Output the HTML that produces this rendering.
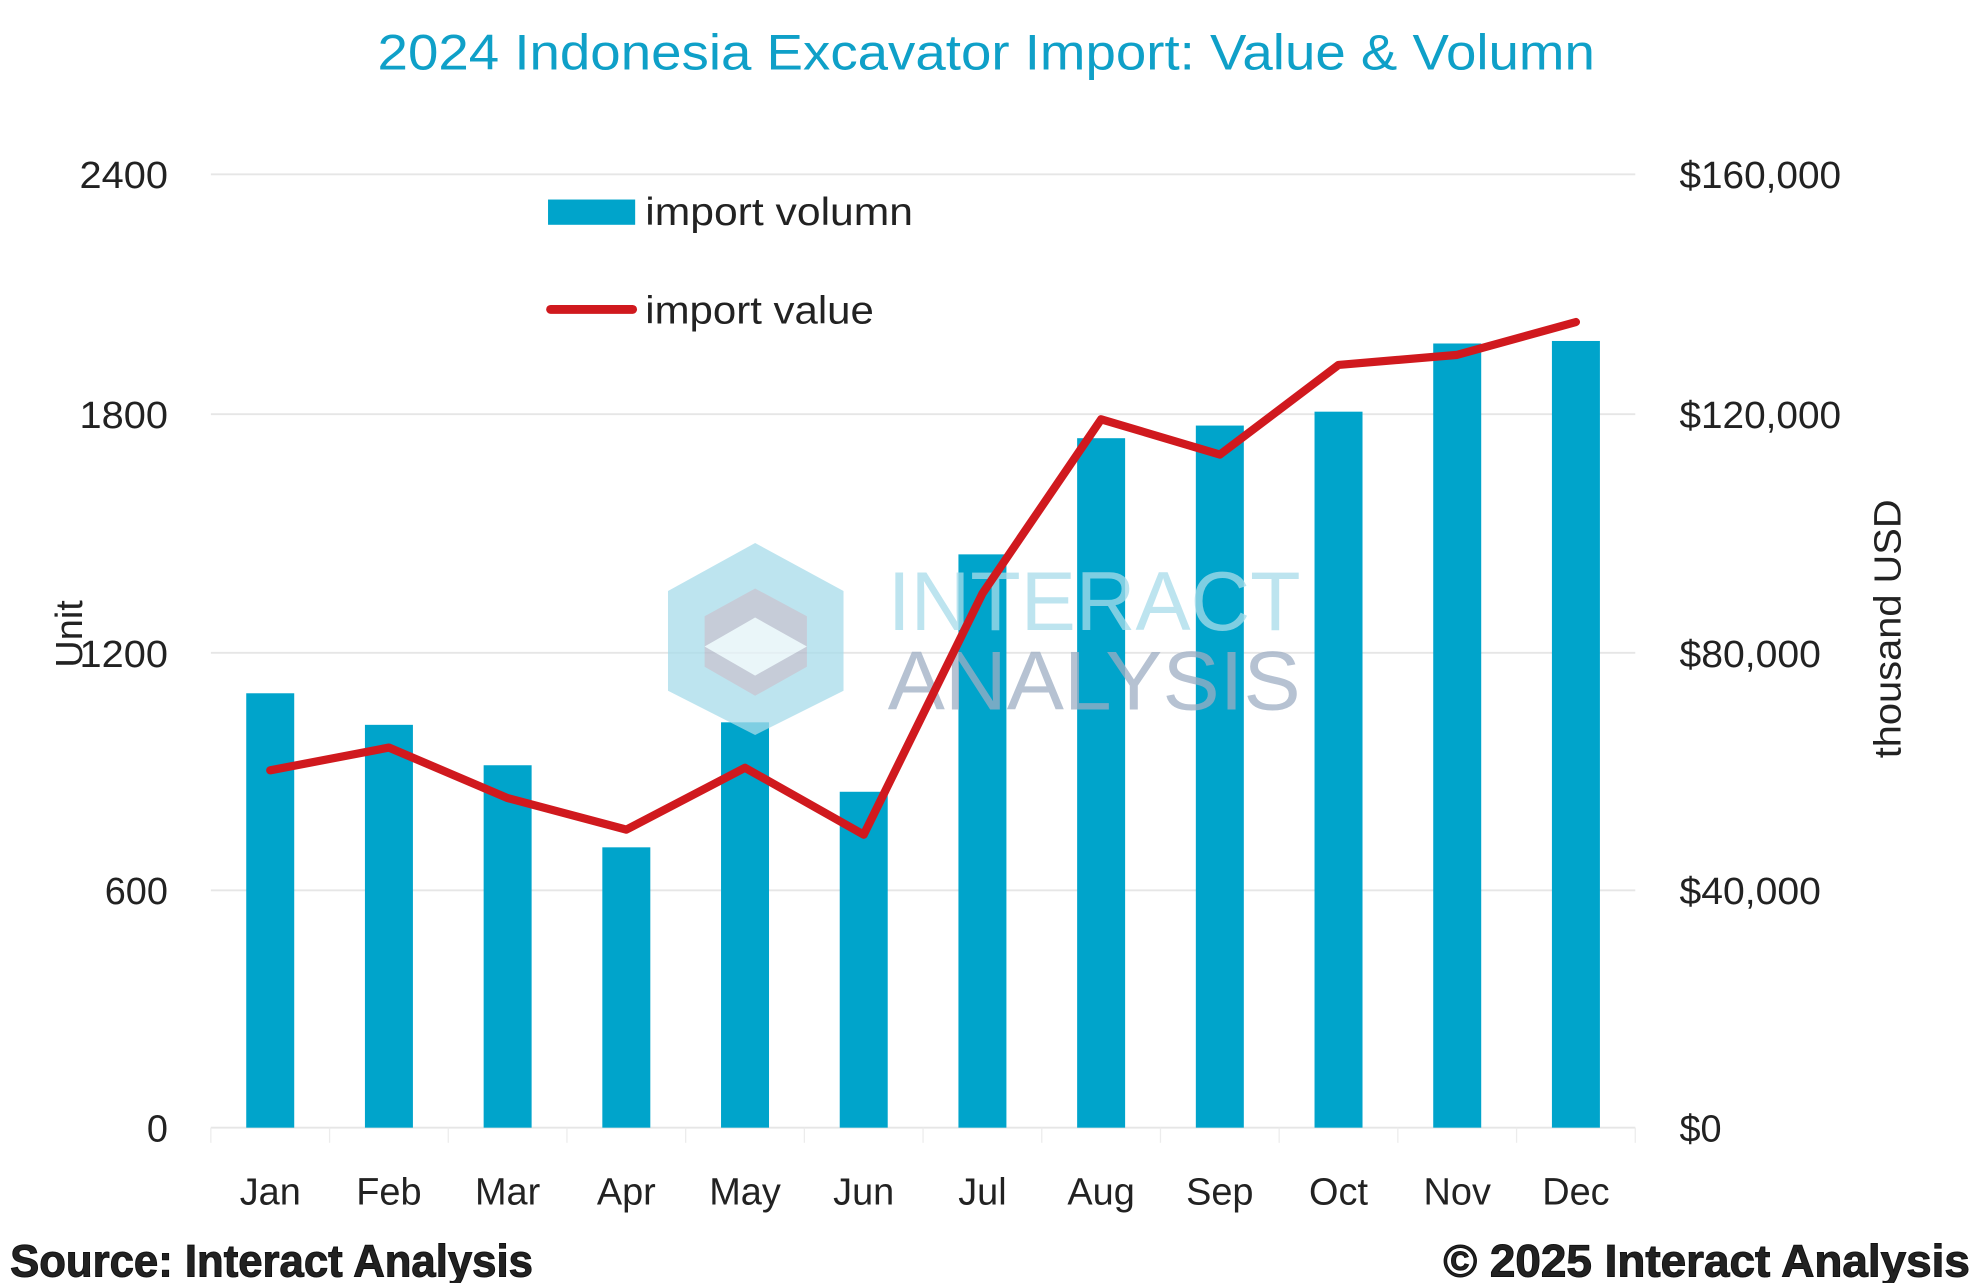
<!DOCTYPE html>
<html><head><meta charset="utf-8"><style>
html,body{margin:0;padding:0;background:#fff;}
svg{display:block;}
text{font-family:"Liberation Sans",sans-serif;}
</style></head><body>
<svg width="1980" height="1283" viewBox="0 0 1568 1016" xmlns="http://www.w3.org/2000/svg">
<rect width="1568" height="1016" fill="#fff"/>
<text x="781" y="55" text-anchor="middle" font-size="40" fill="#0fa0c8" textLength="964" lengthAdjust="spacingAndGlyphs">2024 Indonesia Excavator Import: Value &amp; Volumn</text>
<g stroke="#e6e6e6" stroke-width="1.5">
<line x1="167" y1="138" x2="1295" y2="138"/>
<line x1="167" y1="328" x2="1295" y2="328"/>
<line x1="167" y1="517" x2="1295" y2="517"/>
<line x1="167" y1="705" x2="1295" y2="705"/>
<line x1="167" y1="893" x2="1295" y2="893"/>
</g>
<g stroke="#ececec" stroke-width="1">
<line x1="167" y1="893" x2="167" y2="905"/><line x1="261" y1="893" x2="261" y2="905"/><line x1="355" y1="893" x2="355" y2="905"/><line x1="449" y1="893" x2="449" y2="905"/><line x1="543" y1="893" x2="543" y2="905"/><line x1="637" y1="893" x2="637" y2="905"/><line x1="731" y1="893" x2="731" y2="905"/><line x1="825" y1="893" x2="825" y2="905"/><line x1="919" y1="893" x2="919" y2="905"/><line x1="1013" y1="893" x2="1013" y2="905"/><line x1="1107" y1="893" x2="1107" y2="905"/><line x1="1201" y1="893" x2="1201" y2="905"/><line x1="1295" y1="893" x2="1295" y2="905"/>
</g>
<g fill="#00a4cb">
<rect x="195" y="549" width="38" height="344"/>
<rect x="289" y="574" width="38" height="319"/>
<rect x="383" y="606" width="38" height="287"/>
<rect x="477" y="671" width="38" height="222"/>
<rect x="571" y="572" width="38" height="321"/>
<rect x="665" y="627" width="38" height="266"/>
<rect x="759" y="439" width="38" height="454"/>
<rect x="853" y="347" width="38" height="546"/>
<rect x="947" y="337" width="38" height="556"/>
<rect x="1041" y="326" width="38" height="567"/>
<rect x="1135" y="272" width="38" height="621"/>
<rect x="1229" y="270" width="38" height="623"/>
</g>
<g opacity="0.75">
<polygon points="598,430 668,468 668,547 598,582 529,547 529,468" fill="#a8dcea"/>
<polygon points="598,466 639,488 639,528 598,551 558,528 558,488" fill="#b4bccc"/>
<polygon points="598,489 639,512 598,535 558,512" fill="#e4f3f8"/>
<text x="703" y="499" font-size="66" fill="#a8dcea" textLength="327" lengthAdjust="spacingAndGlyphs">INTERACT</text>
<text x="703" y="562" font-size="66" fill="#9eaec4" textLength="327" lengthAdjust="spacingAndGlyphs">ANALYSIS</text>
</g>
<polyline points="214,610 308,592 402,632 496,657 590,608 684,661 778,470 872,332 966,360 1060,289 1154,281 1248,255" fill="none" stroke="#d0191e" stroke-width="6.5" stroke-linejoin="round" stroke-linecap="round"/>
<g font-size="30" fill="#222" text-anchor="end">
<text x="133" y="149" textLength="70" lengthAdjust="spacingAndGlyphs">2400</text><text x="133" y="339" textLength="70" lengthAdjust="spacingAndGlyphs">1800</text><text x="133" y="528" textLength="70" lengthAdjust="spacingAndGlyphs">1200</text><text x="133" y="716">600</text><text x="133" y="904">0</text>
</g>
<g font-size="30" fill="#222">
<text x="1330" y="149" textLength="128" lengthAdjust="spacingAndGlyphs">$160,000</text><text x="1330" y="339" textLength="128" lengthAdjust="spacingAndGlyphs">$120,000</text><text x="1330" y="528" textLength="112" lengthAdjust="spacingAndGlyphs">$80,000</text><text x="1330" y="716" textLength="112" lengthAdjust="spacingAndGlyphs">$40,000</text><text x="1330" y="904">$0</text>
</g>
<g font-size="30" fill="#222" text-anchor="middle">
<text x="214" y="954">Jan</text><text x="308" y="954">Feb</text><text x="402" y="954">Mar</text><text x="496" y="954">Apr</text><text x="590" y="954">May</text><text x="684" y="954">Jun</text><text x="778" y="954">Jul</text><text x="872" y="954">Aug</text><text x="966" y="954">Sep</text><text x="1060" y="954">Oct</text><text x="1154" y="954">Nov</text><text x="1248" y="954">Dec</text>
</g>
<text transform="translate(65,502) rotate(-90)" font-size="30" fill="#222" text-anchor="middle">Unit</text>
<text transform="translate(1505,498) rotate(-90)" font-size="30" fill="#222" text-anchor="middle" textLength="205" lengthAdjust="spacingAndGlyphs">thousand USD</text>
<rect x="434" y="158" width="69" height="20" fill="#00a4cb"/>
<text x="511" y="178" font-size="31" fill="#222" textLength="212" lengthAdjust="spacingAndGlyphs">import volumn</text>
<line x1="436" y1="245" x2="501" y2="245" stroke="#d0191e" stroke-width="7" stroke-linecap="round"/>
<text x="511" y="256" font-size="31" fill="#222" textLength="181" lengthAdjust="spacingAndGlyphs">import value</text>
<g font-size="36" font-weight="bold" fill="#222" stroke="#111" stroke-width="0.8">
<text x="8" y="1011" textLength="414" lengthAdjust="spacingAndGlyphs">Source: Interact Analysis</text>
<text x="1143" y="1011" textLength="417" lengthAdjust="spacingAndGlyphs">© 2025 Interact Analysis</text>
</g>
</svg>
</body></html>
